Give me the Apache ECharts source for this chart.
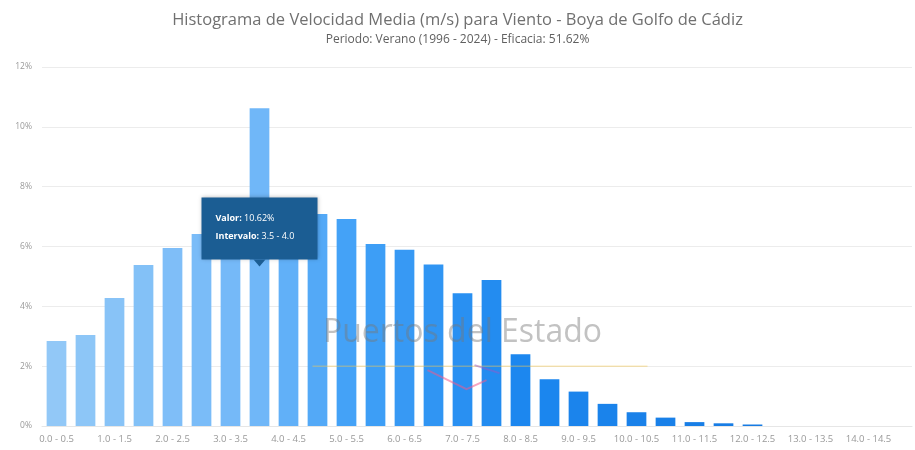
<!DOCTYPE html>
<html>
<head>
<meta charset="utf-8">
<script src="https://cdn.jsdelivr.net/npm/echarts@6/dist/echarts.min.js"></script>
<style>
html,body{margin:0;padding:0;background:#fff;}
#chart{width:915px;height:450px;}
</style>
</head>
<body>
<div id="chart"></div>
<script>
// ---- data ----
var titleText = 'Histograma de Velocidad Media (m/s) para Viento - Boya de Golfo de Cádiz';
var subtitleText = 'Periodo: Verano (1996 - 2024) - Eficacia: 51.62%';
var categories = ['0.0 - 0.5','0.5 - 1.0','1.0 - 1.5','1.5 - 2.0','2.0 - 2.5','2.5 - 3.0','3.0 - 3.5','3.5 - 4.0',
  '4.0 - 4.5','4.5 - 5.0','5.0 - 5.5','5.5 - 6.0','6.0 - 6.5','6.5 - 7.0','7.0 - 7.5','7.5 - 8.0',
  '8.0 - 8.5','8.5 - 9.0','9.0 - 9.5','9.5 - 10.0','10.0 - 10.5','10.5 - 11.0','11.0 - 11.5','11.5 - 12.0',
  '12.0 - 12.5','12.5 - 13.0','13.0 - 13.5','13.5 - 14.0','14.0 - 14.5','14.5 - 15.0'];
var values = [2.84, 3.04, 4.28, 5.38, 5.95, 6.42, 6.8, 10.62, 7.0, 7.09, 6.92, 6.08, 5.89, 5.40, 4.44, 4.88,
  2.40, 1.56, 1.15, 0.74, 0.46, 0.28, 0.13, 0.09, 0.05, 0, 0, 0, 0, 0];
var yTicks = [0, 2, 4, 6, 8, 10, 12];
var highlightIndex = 7;
var watermarkText = 'Puertos del Estado';

// ---- styling helpers ----
var colorStops = [[0,[146,200,247]],[7,[112,183,248]],[10,[68,162,247]],[16,[28,135,239]],[29,[20,116,220]]];
function barColor(i){
  for (var k=0;k<colorStops.length-1;k++){
    var a=colorStops[k], b=colorStops[k+1];
    if (i>=a[0] && i<=b[0]){
      var t=(i-a[0])/(b[0]-a[0]);
      var c=a[1].map(function(v,j){return Math.round(v+(b[1][j]-v)*t);});
      return 'rgb('+c.join(',')+')';
    }
  }
  return 'rgb(20,116,220)';
}
var font = '"Open Sans", "Noto Sans", sans-serif';

var chart = echarts.init(document.getElementById('chart'), null, {renderer:'canvas'});
var option = {
  animation: false,
  backgroundColor: '#fff',
  title: {
    text: titleText, subtext: subtitleText, left: 'center', top: 7, itemGap: 5,
    textStyle: {fontFamily: font, fontSize: 16.5, fontWeight: 'normal', color: '#707070'},
    subtextStyle: {fontFamily: font, fontSize: 12, color: '#606060'}
  },
  grid: {left: 42, right: 3, top: 67, bottom: 24},
  xAxis: {
    type: 'category', data: categories,
    axisTick: {show: false},
    axisLine: {show: true, lineStyle: {color: '#e6e6e6'}},
    axisLabel: {interval: 1, color: '#999', fontSize: 9.5, fontFamily: font, margin: 8}
  },
  yAxis: {
    type: 'value', min: yTicks[0], max: yTicks[yTicks.length-1], interval: 2,
    axisLabel: {formatter: '{value}%', color: '#999', fontSize: 8.5, fontFamily: font, margin: 10},
    splitLine: {lineStyle: {color: '#ececec'}},
    axisLine: {show: false}, axisTick: {show: false}
  },
  series: [{
    type: 'bar', barCategoryGap: '32%',
    data: values.map(function(v,i){return {value: v, itemStyle: {color: barColor(i)}};}),
    z: 2
  }]
};
chart.setOption(option);

// watermark + tooltip overlay positioned through the chart's scales
function overlay(){
  var mid = chart.convertToPixel({gridIndex:0}, [categories[14], 3.1]);
  var tip = chart.convertToPixel({gridIndex:0}, [categories[highlightIndex], 5.3]);
  var y2 = chart.convertToPixel({gridIndex:0}, [categories[14], 2]);
  var tw = 116, th = 62;
  var L = 1;
  chart.setOption({graphic: [
    {type:'line', zlevel: L, z: 1, shape:{x1: mid[0]-150, y1: y2[1], x2: mid[0]+185, y2: y2[1]}, style:{stroke:'rgba(245,200,80,0.4)', lineWidth:1.5}},
    {type:'polyline', zlevel: L, z: 1, shape:{points:[[mid[0]-35,y2[1]+4],[mid[0]+4,y2[1]+23],[mid[0]+24,y2[1]+14]]}, style:{stroke:'rgba(240,90,140,0.55)', lineWidth:2, fill:null}},
    {type:'polyline', zlevel: L, z: 1, shape:{points:[[mid[0]+12,y2[1]-1],[mid[0]+37,y2[1]+7]]}, style:{stroke:'rgba(150,90,200,0.5)', lineWidth:2, fill:null}},
    {type:'text', zlevel: L, z: 2, x: mid[0], y: mid[1], style:{text: watermarkText, font: '32px '+font, fill:'rgba(120,120,120,0.45)', textAlign:'center', textVerticalAlign:'middle'}},
    {type:'rect', zlevel: L, z: 10, shape:{x:tip[0]-tw/2, y:tip[1]-th-8, width:tw, height:th}, style:{fill:'#1b5d93', shadowBlur:4, shadowColor:'rgba(0,0,0,0.25)'}},
    {type:'polygon', zlevel: L, z: 10, shape:{points:[[tip[0]-6,tip[1]-8],[tip[0]+6,tip[1]-8],[tip[0],tip[1]-1]]}, style:{fill:'#1b5d93'}},
    {type:'text', zlevel: L, z: 11, x: tip[0]-tw/2+14, y: tip[1]-th-8+16, style:{text:'{b|Valor:} ' + values[highlightIndex].toFixed(2) + '%', fill:'#fff', font:'9px '+font,
        rich:{b:{fontWeight:'bold', fontSize:9, fill:'#fff', fontFamily: font}}}},
    {type:'text', zlevel: L, z: 11, x: tip[0]-tw/2+14, y: tip[1]-th-8+34, style:{text:'{b|Intervalo:} ' + categories[highlightIndex], fill:'#fff', font:'9px '+font,
        rich:{b:{fontWeight:'bold', fontSize:9, fill:'#fff', fontFamily: font}}}}
  ]});
}
overlay();
</script>
</body>
</html>
